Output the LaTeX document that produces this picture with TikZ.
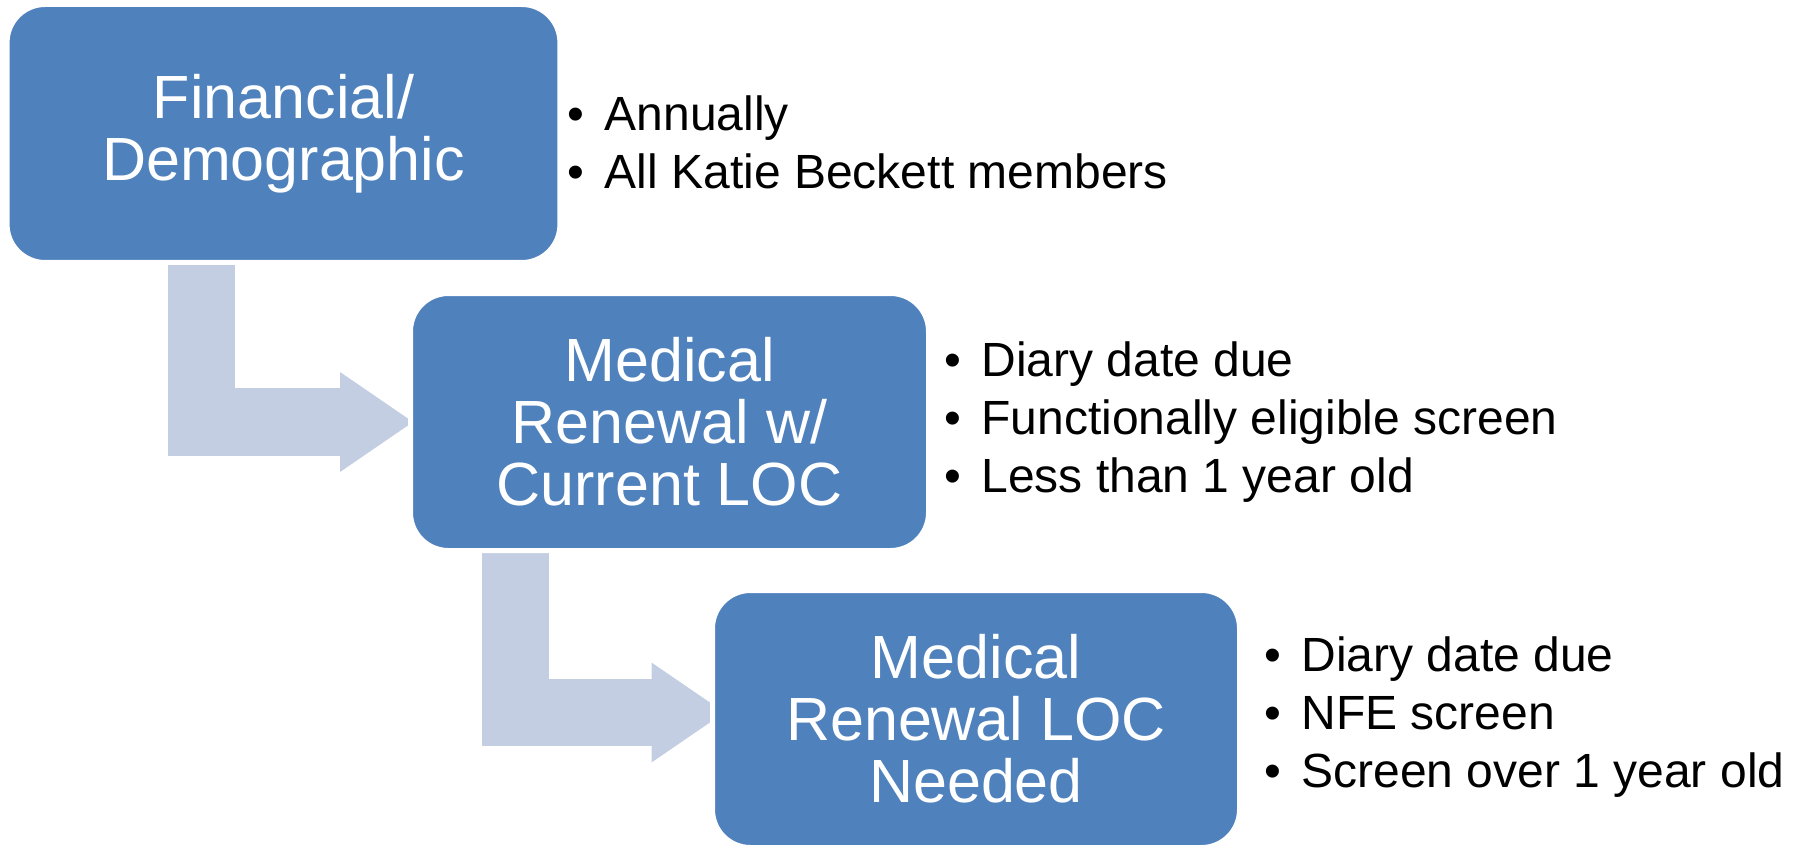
\documentclass[tikz,border=0pt]{standalone}
\usepackage{fontspec}
\setmainfont{Liberation Sans}
\usepackage{tikz}
\usetikzlibrary{positioning}
\usetikzlibrary{calc}
\usetikzlibrary{arrows.meta}
\usetikzlibrary{backgrounds}
\definecolor{boxblue}{HTML}{4F81BD}
\definecolor{arrowblue}{HTML}{C3CEE3}
\newcommand{\bul}{\makebox[18.5pt][l]{\textbullet}}

\begin{document}
\begin{tikzpicture}[x=0.5pt, y=-0.5pt,
	bnode/.style={rectangle,rounded corners=19pt,draw=white,line width=2.5pt,outer sep=0pt,fill=boxblue,text=white,inner sep=0pt,minimum height=128.5pt,align=center,font=\fontsize{30.5}{31}\selectfont},
	lnode/.style={inner sep=0pt,outer sep=0pt,align=left,font=\fontsize{24}{29}\selectfont},
	barrow/.style={line width=33.75pt,draw=arrowblue,-{Triangle[width=50pt,length=36.5pt,line width=0pt]}}]
		\useasboundingbox (0,0) rectangle (1798,845);
		\node[bnode,minimum width=276.4pt,minimum height=129pt,anchor=north west] (fin) at (7.1,4.5) {Financial/\\Demographic};
		\node[bnode,minimum width=259pt,below right=15.5pt and -74.7pt of fin] (med) {Medical\\Renewal w/\\Current LOC};
		\node[bnode,minimum width=263.5pt,below right=20pt and -108pt of med] (loc) {Medical\\Renewal LOC\\Needed};
		\node[lnode,right=4pt of fin,yshift=-4.5pt] (finl) {\bul Annually\\\bul All Katie Beckett members};
		\node[lnode,right=8pt of med] (medl) {\bul Diary date due\\\bul Functionally eligible screen\\\bul Less than 1 year old};
		\node[lnode,right=12.5pt of loc,yshift=1pt] (locl) {\bul Diary date due\\\bul NFE screen\\\bul Screen over 1 year old};
		\begin{scope}[on background layer]
		\draw[barrow,shorten >=-1.25pt] ($(fin.south west)!.3517!(fin.south east)$) |- (med.west);
		\draw[barrow,shorten >=-6pt] ($(med.south west)!.2027!(med.south east)$) |- ($(loc.west)+(0,-6.5)$);
		\end{scope}
	\end{tikzpicture}
\end{document}
